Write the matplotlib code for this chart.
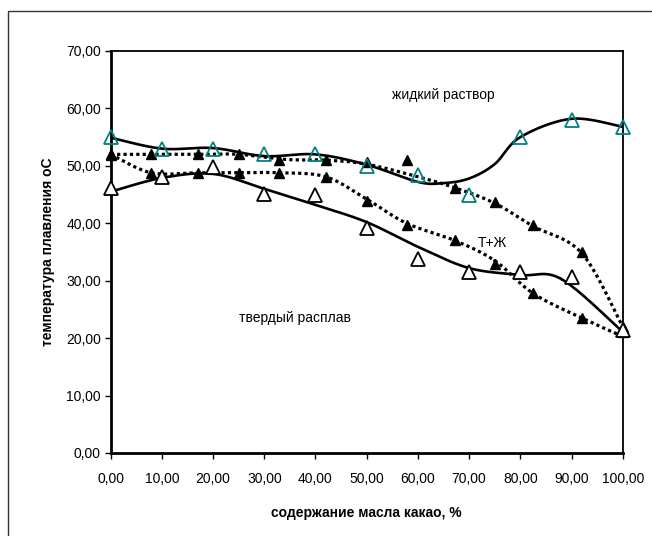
import numpy as np
import matplotlib.pyplot as plt
from matplotlib.patches import Rectangle
from matplotlib.ticker import FuncFormatter, MultipleLocator

plt.rcParams['font.family'] = ['Liberation Sans', 'DejaVu Sans']

# ликвидус (бирюзовые треугольники) и сглаженная кривая
liq_x = [0, 10, 20, 30, 40, 50, 60, 70, 80, 90, 100]
liq_y = [55.0, 53.0, 53.0, 52.0, 52.0, 50.0, 48.4, 45.0, 55.0, 58.0, 56.8]
liq_line_x = [0, 10, 20, 30, 40, 50, 60, 65, 70, 75, 80, 90, 100]
liq_line_y = [54.9, 53.0, 53.1, 51.7, 52.0, 50.2, 47.2, 47.0, 47.8, 50.3, 55.0, 58.2, 56.8]

# солидус (белые треугольники)
sol_x = [0, 10, 20, 30, 40, 50, 60, 70, 80, 90, 100]
sol_y = [46.2, 48.1, 49.8, 45.1, 45.0, 39.2, 33.8, 31.6, 31.6, 30.7, 21.4]
sol_line_x = [0, 10, 20, 30, 40, 50, 60, 70, 80, 88, 100]
sol_line_y = [45.5, 47.9, 48.6, 46.0, 43.2, 40.2, 35.9, 32.2, 31.0, 30.3, 21.1]

# черные треугольники, верхняя пунктирная
up_x = [0, 7.9, 17.1, 25, 32.9, 42, 50, 57.8, 67.2, 75, 82.5, 92, 100]
up_y = [51.9, 52.0, 52.0, 52.0, 51.0, 51.0, 50.7, 51.0, 46.2, 43.7, 39.7, 35.0, 22.0]
up_line_x = [0, 17, 25, 34.5, 42, 50, 60, 67.2, 75, 82.5, 92, 100]
up_line_y = [52.0, 52.0, 52.0, 51.1, 51.0, 50.3, 48.1, 46.2, 43.5, 39.5, 34.8, 22.0]

# черные треугольники, нижняя пунктирная
lo_x = [0, 7.9, 17.1, 25, 32.9, 42, 50, 57.8, 67.2, 75, 82.5, 92, 100]
lo_y = [52.0, 48.8, 48.8, 48.8, 48.8, 48.1, 43.9, 39.7, 37.1, 32.9, 27.8, 23.5, 21.0]
lo_line_x = [0, 7.9, 17.1, 25, 32.9, 42, 50, 57.8, 67.2, 75, 82.5, 92, 100]
lo_line_y = [52.0, 48.8, 48.8, 48.8, 48.8, 48.1, 44.2, 40.0, 37.0, 33.5, 27.8, 23.5, 20.3]


def smooth(xs, ys, n=20):
    # сглаживание как в Excel (Catmull-Rom)
    p = np.column_stack([xs, ys]).astype(float)
    p = np.vstack([p[0], p, p[-1]])
    out = []
    t = np.linspace(0, 1, n)[:, None]
    for i in range(1, len(p) - 2):
        p0, p1, p2, p3 = p[i - 1], p[i], p[i + 1], p[i + 2]
        seg = 0.5 * ((2 * p1) + (-p0 + p2) * t + (2 * p0 - 5 * p1 + 4 * p2 - p3) * t ** 2
                     + (-p0 + 3 * p1 - 3 * p2 + p3) * t ** 3)
        out.append(seg)
    out = np.vstack(out)
    return out[:, 0], out[:, 1]


fig = plt.figure(figsize=(6.52, 5.36), dpi=100)
fig.patches.append(Rectangle((8 / 652, -0.1), 1.2, 1 - 11 / 536 + 0.1, transform=fig.transFigure,
                             fill=False, edgecolor='#333333', linewidth=1.0))
ax = fig.add_axes([110.7 / 652, 1 - 453 / 536, 512 / 652, 402 / 536])

dot = (0, (1, 1))
ax.plot(*smooth(up_line_x, up_line_y), color='black', lw=2.3, linestyle=dot, zorder=2)
ax.plot(*smooth(lo_line_x, lo_line_y), color='black', lw=2.3, linestyle=dot, zorder=2)
ax.plot(*smooth(liq_line_x, liq_line_y), color='black', lw=1.9, zorder=3)
ax.plot(*smooth(sol_line_x, sol_line_y), color='black', lw=1.9, zorder=3)

ax.plot(up_x, up_y, linestyle='none', marker='^', ms=7.5, color='black', zorder=4, clip_on=False)
ax.plot(lo_x, lo_y, linestyle='none', marker='^', ms=7.5, color='black', zorder=4, clip_on=False)
ax.plot(liq_x, liq_y, linestyle='none', marker='^', ms=9.5, mfc='none', mec='#008080', mew=1.3,
        zorder=5, clip_on=False)
ax.plot(sol_x, sol_y, linestyle='none', marker='^', ms=9.5, mfc='white', mec='black', mew=1.3,
        zorder=5, clip_on=False)

ax.set_xlim(0, 100)
ax.set_ylim(0, 70)
ax.xaxis.set_major_locator(MultipleLocator(10))
ax.yaxis.set_major_locator(MultipleLocator(10))
fmt = FuncFormatter(lambda v, pos: '{:.2f}'.format(v).replace('.', ','))
ax.xaxis.set_major_formatter(fmt)
ax.yaxis.set_major_formatter(fmt)
ax.tick_params(direction='out', length=4, width=1, labelsize=10, pad=3)
ax.tick_params(axis='x', pad=10)

for s in ['left', 'bottom']:
    ax.spines[s].set_linewidth(2)
for s in ['top', 'right']:
    ax.spines[s].set_linewidth(1.3)

ax.set_xlabel('содержание масла какао, %', fontsize=10, fontweight='bold', labelpad=14)
ax.set_ylabel('температура плавления оС', fontsize=10, fontweight='bold', labelpad=8)

ax.text(65, 62.4, 'жидкий раствор', fontsize=10, ha='center', va='center')
ax.text(74.5, 36.6, 'Т+Ж', fontsize=10, ha='center', va='center')
ax.text(35.9, 23.5, 'твердый расплав', fontsize=10, ha='center', va='center')

plt.savefig('out.png', dpi=100)
